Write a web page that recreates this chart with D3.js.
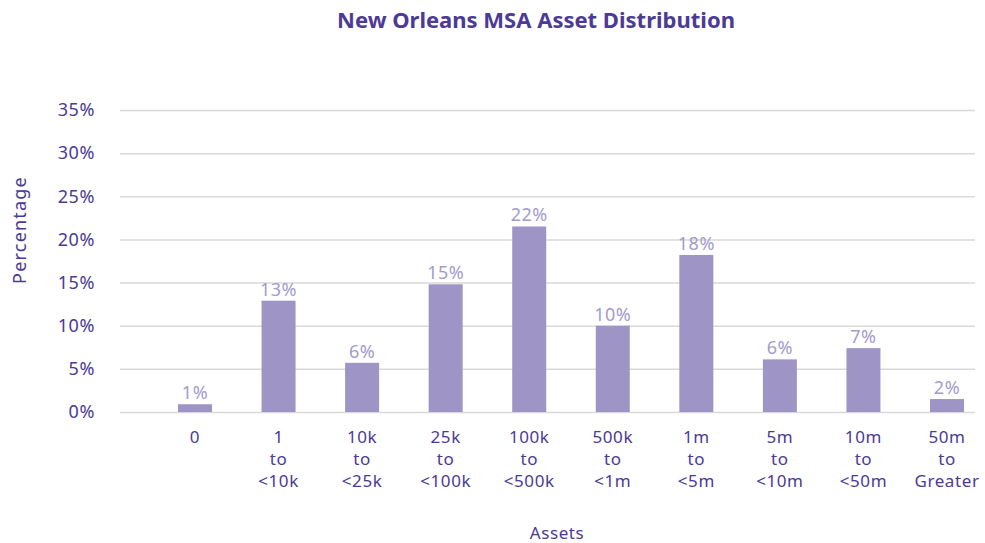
<!DOCTYPE html>
<html>
<head>
<meta charset="utf-8">
<script src="https://cdn.jsdelivr.net/npm/d3@7"></script>
<style>
  html, body { margin: 0; padding: 0; background: #ffffff; }
  svg { display: block; }
  text { font-family: "Century Gothic", "Noto Sans", "DejaVu Sans", sans-serif; }
</style>
</head>
<body>
<svg id="chart" width="985" height="543"></svg>
<script>
const categories = [
  ["0"],
  ["1", "to", "<10k"],
  ["10k", "to", "<25k"],
  ["25k", "to", "<100k"],
  ["100k", "to", "<500k"],
  ["500k", "to", "<1m"],
  ["1m", "to", "<5m"],
  ["5m", "to", "<10m"],
  ["10m", "to", "<50m"],
  ["50m", "to", "Greater"]
];
const values = [0.9, 12.9, 5.7, 14.8, 21.5, 10.0, 18.2, 6.1, 7.4, 1.5];
const yTicks = [0, 5, 10, 15, 20, 25, 30, 35];
const title = "New Orleans MSA Asset Distribution";
const xTitle = "Assets";
const yTitle = "Percentage";

const svg = d3.select("#chart");
const darkText = "#4b3a96";
const barColor = "#9e94c6";
const labelColor = "#a39bcd";

const plotLeft = 120, plotRight = 975;
const y = d3.scaleLinear().domain([0, 35]).range([412, 110]);
const keys = categories.map((c, i) => i);
const x = d3.scalePoint().domain(keys).range([195, 947]);
const barW = 34;

// Title
svg.append("text")
  .attr("x", 536).attr("y", 28)
  .attr("text-anchor", "middle")
  .attr("font-size", 22).attr("font-weight", "bold")
  .attr("fill", darkText)
  .text(title);

// Gridlines + y axis
const yAxis = d3.axisLeft(y)
  .tickValues(yTicks)
  .tickSize(-(plotRight - plotLeft))
  .tickPadding(25)
  .tickFormat(d => d + "%");
const gy = svg.append("g").attr("transform", `translate(${plotLeft},0)`).call(yAxis);
gy.select(".domain").remove();
gy.selectAll(".tick line").attr("stroke", "#d9d9d9").attr("stroke-width", 1.5);
gy.selectAll(".tick text")
  .attr("fill", darkText).attr("font-size", 18)
  .attr("letter-spacing", 0.6)
  .attr("font-family", "'Century Gothic', 'Noto Sans', 'DejaVu Sans', sans-serif");

// Bars
svg.append("g").selectAll("rect").data(values).join("rect")
  .attr("x", (d, i) => x(i) - barW / 2)
  .attr("y", d => y(d))
  .attr("width", barW)
  .attr("height", d => y(0) - y(d))
  .attr("fill", barColor);

// Data labels
svg.append("g").selectAll("text").data(values).join("text")
  .attr("x", (d, i) => x(i))
  .attr("y", d => y(d) - 5)
  .attr("text-anchor", "middle")
  .attr("font-size", 18)
  .attr("letter-spacing", 0.5)
  .attr("fill", labelColor)
  .text(d => Math.round(d) + "%");

// X axis labels
const gx = svg.append("g");
categories.forEach((lines, i) => {
  const t = gx.append("text")
    .attr("x", x(i)).attr("y", 443)
    .attr("text-anchor", "middle")
    .attr("font-size", 17)
    .attr("letter-spacing", 0.6)
    .attr("fill", darkText);
  lines.forEach((ln, j) => {
    t.append("tspan").attr("x", x(i)).attr("dy", j === 0 ? 0 : 22).text(ln);
  });
});

// Axis titles
svg.append("text")
  .attr("x", 557).attr("y", 539)
  .attr("text-anchor", "middle")
  .attr("font-size", 17)
  .attr("letter-spacing", 0.6)
  .attr("fill", darkText)
  .text(xTitle);

svg.append("text")
  .attr("transform", "translate(26,230) rotate(-90)")
  .attr("text-anchor", "middle")
  .attr("font-size", 18)
  .attr("letter-spacing", 1.2)
  .attr("fill", darkText)
  .text(yTitle);
</script>
</body>
</html>
